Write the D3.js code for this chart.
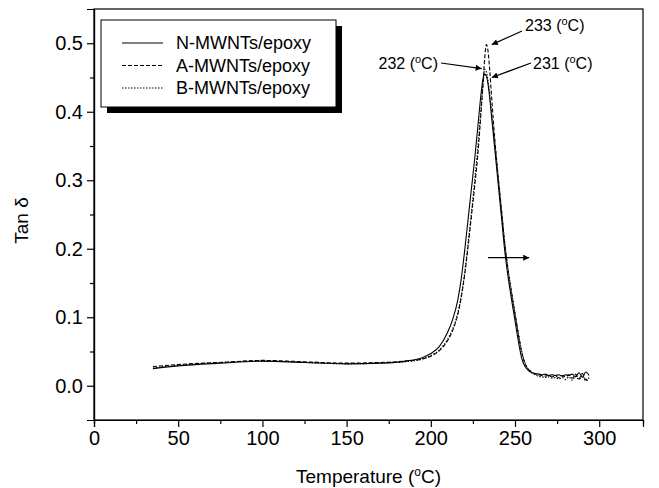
<!DOCTYPE html>
<html>
<head>
<meta charset="utf-8">
<script src="https://cdn.jsdelivr.net/npm/d3@7"></script>
<style>
  body { margin: 0; background: #fff; }
  text { font-family: Arial, "Liberation Sans", sans-serif; fill: #000; }
</style>
</head>
<body>
<div id="chart"></div>
<script>
// Temperature grid (°C) shared by the three series
const temps = [35, 50, 75, 100, 125, 150, 170, 185, 195, 200, 205, 210, 213, 216, 218, 220, 222, 224,
  226, 228, 230, 231, 232, 233, 234, 235, 236, 238, 240, 242, 244, 246, 248, 250, 252, 254, 256, 258,
  260, 262, 264, 266, 268, 270, 272, 274, 276, 278, 280, 282, 284, 286, 288, 290, 292, 294];

// Tan delta values
const nValues = [0.025, 0.029, 0.033, 0.036, 0.034, 0.032, 0.033, 0.036, 0.041, 0.047, 0.057, 0.078, 0.097,
  0.125, 0.155, 0.195, 0.24, 0.285, 0.33, 0.38, 0.43, 0.448, 0.455, 0.452, 0.44, 0.42, 0.395, 0.345, 0.295,
  0.245, 0.195, 0.157, 0.125, 0.095, 0.065, 0.04, 0.028, 0.022, 0.019, 0.018, 0.017, 0.016, 0.017, 0.015,
  0.016, 0.015, 0.016, 0.014, 0.016, 0.015, 0.017, 0.013, 0.019, 0.012, 0.02, 0.015];
const aValues = [0.028, 0.031, 0.034, 0.037, 0.035, 0.033, 0.034, 0.036, 0.039, 0.043, 0.051, 0.066, 0.081,
  0.104, 0.128, 0.16, 0.2, 0.245, 0.29, 0.34, 0.405, 0.44, 0.478, 0.498, 0.488, 0.46, 0.425, 0.36, 0.305,
  0.255, 0.205, 0.167, 0.135, 0.105, 0.075, 0.049, 0.032, 0.024, 0.02, 0.017, 0.016, 0.015, 0.014, 0.015,
  0.013, 0.014, 0.012, 0.015, 0.013, 0.016, 0.011, 0.017, 0.01, 0.018, 0.009, 0.012];
const bValues = [0.026, 0.03, 0.034, 0.036, 0.034, 0.032, 0.033, 0.035, 0.039, 0.044, 0.052, 0.068, 0.083,
  0.106, 0.13, 0.163, 0.205, 0.25, 0.298, 0.35, 0.41, 0.44, 0.462, 0.458, 0.445, 0.425, 0.4, 0.355, 0.305,
  0.257, 0.207, 0.168, 0.136, 0.106, 0.077, 0.05, 0.033, 0.024, 0.019, 0.016, 0.014, 0.013, 0.012, 0.013,
  0.011, 0.012, 0.01, 0.012, 0.009, 0.013, 0.008, 0.014, 0.009, 0.015, 0.007, 0.011];

const seriesNames = ["N-MWNTs/epoxy", "A-MWNTs/epoxy", "B-MWNTs/epoxy"];

// Tick values
const xTicks = [0, 50, 100, 150, 200, 250, 300];
const xMinor = [25, 75, 125, 175, 225, 275];
const yTicks = [0.0, 0.1, 0.2, 0.3, 0.4, 0.5];
const yMinor = [0.05, 0.15, 0.25, 0.35, 0.45];

// Peak annotations: label, arrow tip (temperature, tan delta)
const peakLabels = ["233", "232", "231"];
const peakTipT = [236.2, 230.2, 236.2];
const peakTipV = [0.498, 0.463, 0.45];

const W = 659, H = 488;
const margin = { top: 9, right: 16, bottom: 68, left: 94 };

const svg = d3.select("#chart").append("svg")
  .attr("width", W).attr("height", H);

const x = d3.scaleLinear().domain([0, 326]).range([margin.left, W - margin.right]);
const y = d3.scaleLinear().domain([-0.05, 0.55]).range([H - margin.bottom, margin.top]);

// arrow head marker
svg.append("defs").append("marker")
  .attr("id", "head")
  .attr("viewBox", "0 0 10 10")
  .attr("refX", 10).attr("refY", 5)
  .attr("markerWidth", 9).attr("markerHeight", 6)
  .attr("markerUnits", "userSpaceOnUse")
  .attr("orient", "auto")
  .append("path").attr("d", "M0,0 L10,5 L0,10 Z").attr("fill", "#000");

// frame
svg.append("rect")
  .attr("x", x(0)).attr("y", y(0.55))
  .attr("width", x(326) - x(0)).attr("height", y(-0.05) - y(0.55))
  .attr("fill", "none").attr("stroke", "#000").attr("stroke-width", 1.2);

// axes
svg.append("g").attr("transform", `translate(0,${y(-0.05)})`)
  .call(d3.axisBottom(x).tickValues(xTicks).tickSize(7).tickPadding(4).tickFormat(d3.format("d")));
svg.append("g").attr("transform", `translate(0,${y(-0.05)})`)
  .call(d3.axisBottom(x).tickValues(xMinor).tickSize(4).tickFormat(""));
svg.append("g").attr("transform", `translate(${x(0)},0)`)
  .call(d3.axisLeft(y).tickValues(yTicks).tickSize(7).tickPadding(4).tickFormat(d3.format(".1f")));
svg.append("g").attr("transform", `translate(${x(0)},0)`)
  .call(d3.axisLeft(y).tickValues(yMinor).tickSize(4).tickFormat(""));

svg.selectAll(".domain").attr("stroke", "#000").attr("stroke-width", 1.2);
svg.selectAll(".tick line").attr("stroke", "#000").attr("stroke-width", 1.2);
svg.selectAll(".tick text").style("font-size", "20px").style("font-family", "Arial, 'Liberation Sans', sans-serif");

// axis titles
const xTitle = svg.append("text")
  .attr("x", (x(0) + x(326)) / 2).attr("y", 483)
  .attr("text-anchor", "middle").style("font-size", "19px");
xTitle.append("tspan").text("Temperature (");
xTitle.append("tspan").attr("baseline-shift", "super").style("font-size", "12px").text("o");
xTitle.append("tspan").text("C)");

svg.append("text")
  .attr("transform", `translate(28,${(y(0.55) + y(-0.05)) / 2 + 6}) rotate(-90)`)
  .attr("text-anchor", "middle").style("font-size", "19px")
  .text("Tan \u03b4");

// curves
const dashes = [null, "4,2", "1.5,1.5"];
const allValues = [nValues, aValues, bValues];
const line = d3.line()
  .x((d, i) => x(temps[i]))
  .y(d => y(d))
  .curve(d3.curveMonotoneX);

svg.selectAll(".curve")
  .data(allValues)
  .enter().append("path")
  .attr("class", "curve")
  .attr("d", line)
  .attr("fill", "none")
  .attr("stroke", "#000")
  .attr("stroke-width", 1.1)
  .attr("stroke-dasharray", (d, i) => dashes[i]);

// legend
const lg = svg.append("g");
lg.append("rect").attr("x", 107).attr("y", 26).attr("width", 235).attr("height", 87).attr("fill", "#000");
lg.append("rect").attr("x", 101).attr("y", 20).attr("width", 235).attr("height", 87)
  .attr("fill", "#fff").attr("stroke", "#000").attr("stroke-width", 1);
seriesNames.forEach((name, i) => {
  const ly = 43 + i * 22.5;
  lg.append("line").attr("x1", 122).attr("x2", 163).attr("y1", ly).attr("y2", ly)
    .attr("stroke", "#000").attr("stroke-width", 1.1).attr("stroke-dasharray", dashes[i]);
  lg.append("text").attr("x", 176).attr("y", ly + 6).style("font-size", "18px").text(name);
});

// peak annotations
const labelPos = [[525, 31, "start"], [438, 69, "end"], [533, 69, "start"]];
const arrowStart = [[522, 31], [441, 63], [531, 63]];
peakLabels.forEach((lab, i) => {
  svg.append("line")
    .attr("x1", arrowStart[i][0]).attr("y1", arrowStart[i][1])
    .attr("x2", x(peakTipT[i])).attr("y2", y(peakTipV[i]))
    .attr("stroke", "#000").attr("stroke-width", 1.2)
    .attr("marker-end", "url(#head)");
  const t = svg.append("text")
    .attr("x", labelPos[i][0]).attr("y", labelPos[i][1])
    .attr("text-anchor", labelPos[i][2]).style("font-size", "16px");
  t.append("tspan").text(lab + " (");
  t.append("tspan").attr("baseline-shift", "super").style("font-size", "11px").text("o");
  t.append("tspan").text("C)");
});

// shift arrow
svg.append("line")
  .attr("x1", x(234)).attr("x2", x(258.4))
  .attr("y1", y(0.187)).attr("y2", y(0.187))
  .attr("stroke", "#000").attr("stroke-width", 1.2)
  .attr("marker-end", "url(#head)");
</script>
</body>
</html>
